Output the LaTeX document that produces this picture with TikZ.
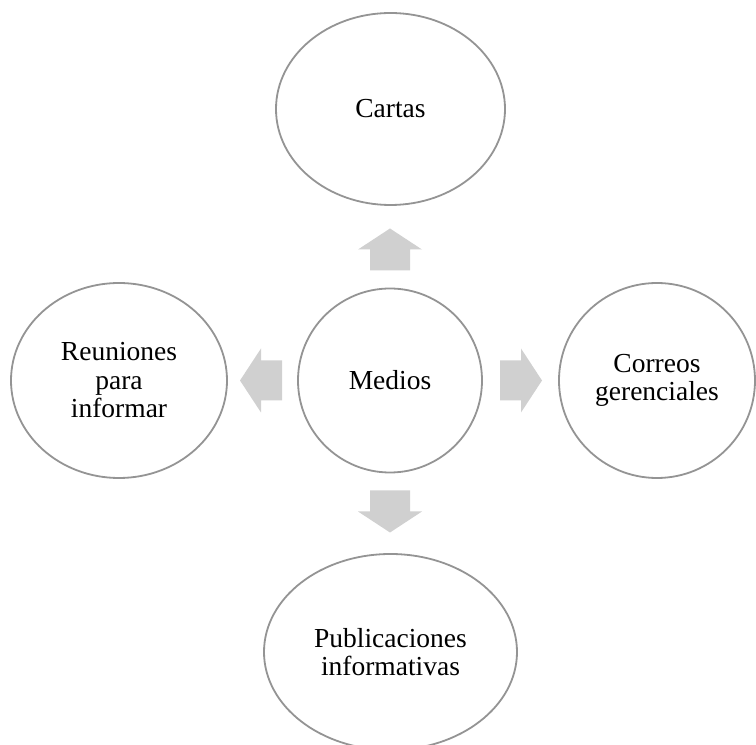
\documentclass[tikz,border=0pt]{standalone}
\usepackage{fontspec}
\setmainfont{Liberation Serif}
\usetikzlibrary{shapes.geometric,calc}
\definecolor{edgegray}{RGB}{148,148,148}
\definecolor{arrowfill}{RGB}{208,208,208}
\tikzset{
  bubble/.style={ellipse, draw=edgegray, line width=1.8pt, fill=white, inner sep=0pt,
    align=center, font=\fontsize{27.5}{28.5}\selectfont},
  pics/blockarrow/.style={code={
    \fill[arrowfill] (0,-20) -- (21,-20) -- (21,-32) -- (42,0) -- (21,32) -- (21,20) -- (0,20) -- cycle;
  }}
}
\begin{document}
\begin{tikzpicture}[x=1pt,y=1pt]
\useasboundingbox (0,0) rectangle (756,745);
% hub and the four media around it
\node[bubble, minimum width=184pt, minimum height=184pt] (medios) at (390,364.5) {Medios};
\node[bubble, minimum width=229pt, minimum height=192pt] (cartas) at (390.5,636) {Cartas};
\node[bubble, minimum width=216pt, minimum height=195pt] (reuniones) at (119,364.5) {Reuniones\\para\\informar};
\node[bubble, minimum width=196pt, minimum height=195pt] (correos) at (657,364.5) {Correos\\gerenciales};
\node[bubble, minimum width=253pt, minimum height=196pt] (publicaciones) at (390.5,93) {Publicaciones\\informativas};
% block arrows pointing out of the hub
\pic[rotate=90]  at ($(medios.center)+(0,110)$)  {blockarrow};
\pic[rotate=0]   at ($(medios.center)+(110,0)$)  {blockarrow};
\pic[rotate=180] at ($(medios.center)+(-108,0)$) {blockarrow};
\pic[rotate=-90] at ($(medios.center)+(0,-110)$) {blockarrow};
\end{tikzpicture}
\end{document}
